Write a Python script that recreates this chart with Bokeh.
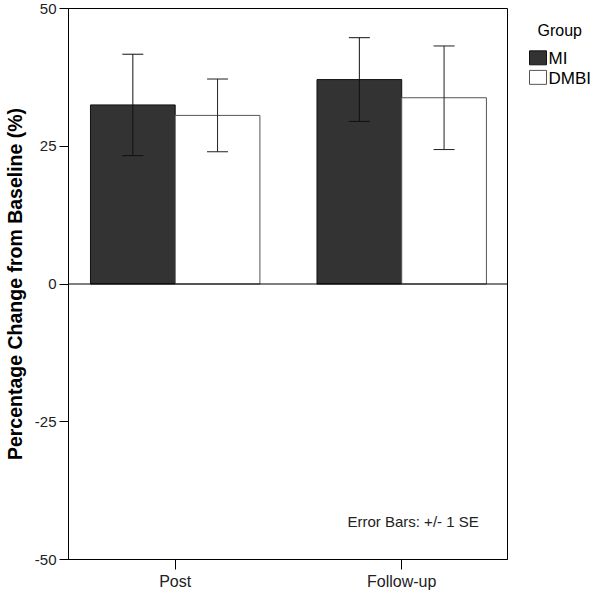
from bokeh.plotting import figure
from bokeh.layouts import row
from bokeh.models import (ColumnDataSource, Range1d, Whisker, TeeHead, Span,
                          Label, FixedTicker)
from bokeh.core.properties import value
from bokeh.transform import dodge
from bokeh.embed import file_html
from bokeh.resources import INLINE

categories = ["Post", "Follow-up"]
groups = ["MI", "DMBI"]
group_fill = ["#333333", "white"]
group_line = ["#111111", "#555555"]
mi_mean = [32.5, 37.1]
mi_se = [9.2, 7.6]
dmbi_mean = [30.6, 33.8]
dmbi_se = [6.6, 9.4]
y_ticks = [-50, -25, 0, 25, 50]

FONT = "Liberation Sans"

pos = [i + 1 for i in range(len(categories))]
src = ColumnDataSource(dict(
    pos=pos,
    mi=mi_mean,
    mi_up=[m + s for m, s in zip(mi_mean, mi_se)],
    mi_lo=[m - s for m, s in zip(mi_mean, mi_se)],
    dmbi=dmbi_mean,
    dmbi_up=[m + s for m, s in zip(dmbi_mean, dmbi_se)],
    dmbi_lo=[m - s for m, s in zip(dmbi_mean, dmbi_se)],
))

p = figure(width=508, height=592, x_range=Range1d(0.529, 2.467), y_range=Range1d(-50, 50),
           output_backend="svg", toolbar_location=None,
           min_border_left=67, min_border_top=8, min_border_bottom=32, min_border_right=1)

p.xgrid.visible = False
p.ygrid.visible = False
p.outline_line_color = "black"
p.outline_line_width = 1
p.background_fill_color = "white"

W = 0.374
r_mi = p.vbar(x=dodge("pos", -W / 2), top="mi", bottom=0, width=W, source=src,
              fill_color=group_fill[0], line_color=group_line[0], line_width=1)
r_dm = p.vbar(x=dodge("pos", W / 2), top="dmbi", bottom=0, width=W, source=src,
              fill_color=group_fill[1], line_color=group_line[1], line_width=1)

for off, up, lo, col in [(-W / 2, "mi_up", "mi_lo", "#111111"), (W / 2, "dmbi_up", "dmbi_lo", "#222222")]:
    w = Whisker(base=dodge("pos", off), upper=up, lower=lo, source=src,
                line_color=col, line_width=1, level="overlay",
                upper_head=TeeHead(size=21, line_color=col, line_width=1),
                lower_head=TeeHead(size=21, line_color=col, line_width=1))
    p.add_layout(w)

p.add_layout(Span(location=0, dimension="width", line_color="black", line_width=1))

p.yaxis.ticker = FixedTicker(ticks=y_ticks)
p.yaxis.major_label_overrides = {t: str(t) for t in y_ticks}
p.yaxis.minor_tick_line_color = None
p.yaxis.major_tick_in = 0
p.yaxis.major_tick_out = 9
p.yaxis.major_label_standoff = 3
p.yaxis.axis_label = "Percentage Change from Baseline (%)"
p.yaxis.axis_label_text_font = FONT
p.yaxis.axis_label_text_font_style = "bold"
p.yaxis.axis_label_text_font_size = "19.5px"
p.yaxis.axis_label_text_color = "black"
p.yaxis.axis_label_standoff = 6
p.yaxis.major_label_text_font = FONT
p.yaxis.major_label_text_font_size = "15px"
p.yaxis.major_label_text_color = "#222222"

p.xaxis.ticker = FixedTicker(ticks=pos)
p.xaxis.major_label_overrides = {x: c for x, c in zip(pos, categories)}
p.xaxis.minor_tick_line_color = None
p.xaxis.major_tick_in = 0
p.xaxis.major_tick_out = 10
p.xaxis.major_label_standoff = 3
p.xaxis.major_label_text_font = FONT
p.xaxis.major_label_text_font_size = "16px"
p.xaxis.major_label_text_color = "#222222"

for ax in (p.xaxis, p.yaxis):
    ax.axis_line_color = "black"
    ax.major_tick_line_color = "black"

p.add_layout(Label(x=2.34, y=-43.1, text="Error Bars: +/- 1 SE", text_align="right",
                   text_baseline="middle", text_font=FONT, text_font_size="15px",
                   text_color="#222222"))

# legend drawn in a narrow side figure (pixel-like coordinates, y downward)
LW, LH = 84, 592
leg = figure(width=LW, height=LH, x_range=Range1d(0, LW), y_range=Range1d(LH, 0),
             output_backend="svg", toolbar_location=None,
             x_axis_location=None, y_axis_location=None,
             min_border=0, outline_line_color=None)
leg.xgrid.visible = False
leg.ygrid.visible = False

leg_src = ColumnDataSource(dict(
    label=groups, fill=group_fill, line=group_line,
    sx=[29.5, 29.5], sy=[53, 74], tx=[40, 40], ty=[54, 75],
))
leg.rect(x="sx", y="sy", width=17, height=15, fill_color="fill", line_color="line",
         line_width=1, source=leg_src)
leg.text(x="tx", y="ty", text="label", text_font=value(FONT), text_font_size="17px",
         text_baseline="middle", text_align="left", text_color="black", source=leg_src)
leg.text(x=[29], y=[24], text=["Group"], text_font=value(FONT), text_font_size="16px",
         text_baseline="middle", text_align="left", text_color="black")

open("out.html", "w").write(file_html(row(p, leg), INLINE))
